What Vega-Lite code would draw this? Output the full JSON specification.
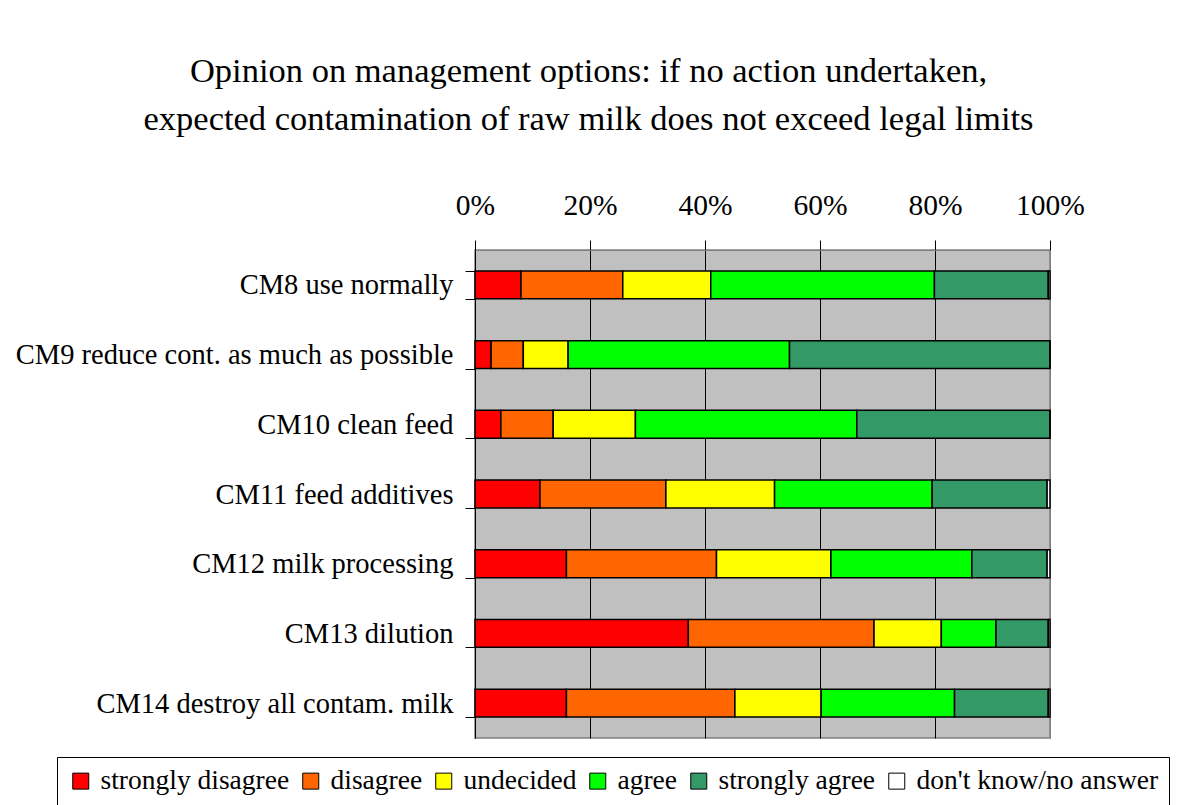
{
  "$schema": "https://vega.github.io/schema/vega-lite/v6.json",
  "autosize": {"type": "none"},
  "width": 575,
  "height": 488,
  "padding": {"left": 475, "top": 250, "right": 135, "bottom": 67},
  "background": "white",
  "title": {
    "text": ["Opinion on management options: if no action undertaken,", "expected contamination of raw milk does not exceed legal limits"],
    "font": "Liberation Serif",
    "fontSize": 34.5,
    "fontWeight": "normal",
    "color": "black",
    "lineHeight": 48,
    "anchor": "middle",
    "dx": -174,
    "offset": 53
  },
  "data": {
    "values": [
      {"option": "CM8 use normally", "response": "strongly disagree", "o": 1, "pct": 8.0},
      {"option": "CM8 use normally", "response": "disagree", "o": 2, "pct": 17.7},
      {"option": "CM8 use normally", "response": "undecided", "o": 3, "pct": 15.3},
      {"option": "CM8 use normally", "response": "agree", "o": 4, "pct": 38.9},
      {"option": "CM8 use normally", "response": "strongly agree", "o": 5, "pct": 19.8},
      {"option": "CM8 use normally", "response": "don't know/no answer", "o": 6, "pct": 0.3},
      {"option": "CM9 reduce cont. as much as possible", "response": "strongly disagree", "o": 1, "pct": 2.8},
      {"option": "CM9 reduce cont. as much as possible", "response": "disagree", "o": 2, "pct": 5.6},
      {"option": "CM9 reduce cont. as much as possible", "response": "undecided", "o": 3, "pct": 7.8},
      {"option": "CM9 reduce cont. as much as possible", "response": "agree", "o": 4, "pct": 38.5},
      {"option": "CM9 reduce cont. as much as possible", "response": "strongly agree", "o": 5, "pct": 45.3},
      {"option": "CM9 reduce cont. as much as possible", "response": "don't know/no answer", "o": 6, "pct": 0},
      {"option": "CM10 clean feed", "response": "strongly disagree", "o": 1, "pct": 4.5},
      {"option": "CM10 clean feed", "response": "disagree", "o": 2, "pct": 9.1},
      {"option": "CM10 clean feed", "response": "undecided", "o": 3, "pct": 14.3},
      {"option": "CM10 clean feed", "response": "agree", "o": 4, "pct": 38.5},
      {"option": "CM10 clean feed", "response": "strongly agree", "o": 5, "pct": 33.6},
      {"option": "CM10 clean feed", "response": "don't know/no answer", "o": 6, "pct": 0},
      {"option": "CM11 feed additives", "response": "strongly disagree", "o": 1, "pct": 11.3},
      {"option": "CM11 feed additives", "response": "disagree", "o": 2, "pct": 21.9},
      {"option": "CM11 feed additives", "response": "undecided", "o": 3, "pct": 18.9},
      {"option": "CM11 feed additives", "response": "agree", "o": 4, "pct": 27.4},
      {"option": "CM11 feed additives", "response": "strongly agree", "o": 5, "pct": 20.0},
      {"option": "CM11 feed additives", "response": "don't know/no answer", "o": 6, "pct": 0.5},
      {"option": "CM12 milk processing", "response": "strongly disagree", "o": 1, "pct": 15.9},
      {"option": "CM12 milk processing", "response": "disagree", "o": 2, "pct": 26.1},
      {"option": "CM12 milk processing", "response": "undecided", "o": 3, "pct": 19.9},
      {"option": "CM12 milk processing", "response": "agree", "o": 4, "pct": 24.5},
      {"option": "CM12 milk processing", "response": "strongly agree", "o": 5, "pct": 13.1},
      {"option": "CM12 milk processing", "response": "don't know/no answer", "o": 6, "pct": 0.5},
      {"option": "CM13 dilution", "response": "strongly disagree", "o": 1, "pct": 37.1},
      {"option": "CM13 dilution", "response": "disagree", "o": 2, "pct": 32.3},
      {"option": "CM13 dilution", "response": "undecided", "o": 3, "pct": 11.7},
      {"option": "CM13 dilution", "response": "agree", "o": 4, "pct": 9.5},
      {"option": "CM13 dilution", "response": "strongly agree", "o": 5, "pct": 9.1},
      {"option": "CM13 dilution", "response": "don't know/no answer", "o": 6, "pct": 0.3},
      {"option": "CM14 destroy all contam. milk", "response": "strongly disagree", "o": 1, "pct": 15.9},
      {"option": "CM14 destroy all contam. milk", "response": "disagree", "o": 2, "pct": 29.3},
      {"option": "CM14 destroy all contam. milk", "response": "undecided", "o": 3, "pct": 15.0},
      {"option": "CM14 destroy all contam. milk", "response": "agree", "o": 4, "pct": 23.2},
      {"option": "CM14 destroy all contam. milk", "response": "strongly agree", "o": 5, "pct": 16.3},
      {"option": "CM14 destroy all contam. milk", "response": "don't know/no answer", "o": 6, "pct": 0.3}
    ]
  },
  "mark": {"type": "bar", "stroke": "black", "strokeWidth": 1.5},
  "encoding": {
    "y": {
      "field": "option",
      "type": "nominal",
      "sort": null,
      "scale": {"paddingInner": 0.6, "paddingOuter": 0.3},
      "axis": {
        "title": null,
        "orient": "left",
        "tickBand": "extent",
        "tickSize": 10,
        "tickColor": "black",
        "domainColor": "black",
        "labelFont": "Liberation Serif",
        "labelFontSize": 28.5,
        "labelColor": "black",
        "labelPadding": 12,
        "labelLimit": 600,
        "grid": false
      }
    },
    "x": {
      "field": "pct",
      "type": "quantitative",
      "stack": "normalize",
      "scale": {"domain": [0, 1]},
      "axis": {
        "title": null,
        "orient": "top",
        "format": ".0%",
        "values": [0, 0.2, 0.4, 0.6, 0.8, 1],
        "labelFlush": false,
        "tickSize": 10,
        "tickColor": "black",
        "domainColor": "#808080",
        "labelFont": "Liberation Serif",
        "labelFontSize": 29.5,
        "labelColor": "black",
        "labelPadding": 20,
        "grid": true,
        "gridColor": {"condition": {"test": "datum.value == 1", "value": "#808080"}, "value": "black"},
        "gridOpacity": 1,
        "gridWidth": 1
      }
    },
    "order": {"field": "o", "type": "quantitative"},
    "color": {
      "field": "response",
      "type": "nominal",
      "scale": {
        "domain": ["strongly disagree", "disagree", "undecided", "agree", "strongly agree", "don't know/no answer"],
        "range": ["#FF0000", "#FF6600", "#FFFF00", "#00FF00", "#339966", "#FFFFFF"]
      },
      "legend": {
        "title": null,
        "orient": "none",
        "legendX": -418,
        "legendY": 507,
        "direction": "horizontal",
        "columns": 6,
        "symbolType": "square",
        "symbolSize": 256,
        "symbolStrokeColor": "black",
        "symbolStrokeWidth": 1,
        "symbolOpacity": 1,
        "labelFont": "Liberation Serif",
        "labelFontSize": 27.5,
        "labelColor": "black",
        "labelOffset": 6,
        "labelLimit": 400,
        "columnPadding": 7,
        "strokeColor": "black",
        "padding": 10
      }
    }
  },
  "config": {
    "view": {"fill": "#C0C0C0", "stroke": "#808080", "strokeWidth": 1.5}
  }
}
